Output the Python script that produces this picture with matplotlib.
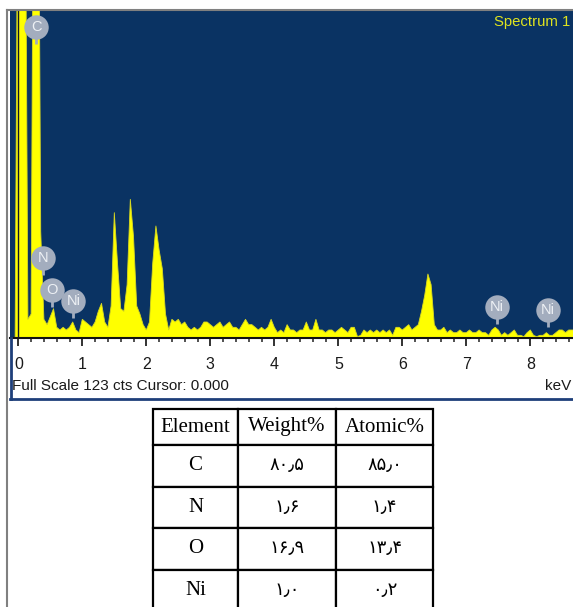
import numpy as np
import matplotlib
matplotlib.use('Agg')
import matplotlib.pyplot as plt
from matplotlib.lines import Line2D
from matplotlib.ticker import MultipleLocator

plt.rcParams['font.family'] = ['Liberation Sans', 'DejaVu Sans']

# ---------------- data ----------------
energy_start = -0.10   # keV
energy_step = 0.05     # keV
counts = [0, 0,
          # 0.00 - 0.95
          220, 220, 220, 7, 9, 260, 260, 40, 7, 5, 8, 11, 4, 3, 4, 3, 4, 6, 3, 2,
          # 1.00 - 1.95
          7, 6, 5, 4, 6, 10, 13, 6, 4, 12, 47, 28, 11, 10, 20, 52, 38, 12, 9, 5,
          # 2.00 - 2.95
          3, 6, 28, 42, 33, 26, 9, 3, 7, 6, 7, 5, 6, 4, 3, 4, 3, 4, 6, 6,
          # 3.00 - 3.95
          5, 4, 5, 6, 4, 5, 6, 4, 4, 3, 5, 7, 5, 5, 4, 3, 4, 3, 4, 7,
          # 4.00 - 4.95
          4, 2, 3, 2, 5, 3, 3, 2, 3, 3, 6, 3, 3, 7, 3, 3, 2, 3, 3, 2,
          # 5.00 - 5.95
          3, 4, 3, 2, 4, 4, 0.5, 1, 3, 2, 3, 2, 3, 2, 3, 2, 3, 1, 4, 4,
          # 6.00 - 6.95
          3, 4, 5, 3, 4, 5, 10, 16, 24, 20, 5, 3, 3, 4, 2, 3, 2, 2, 3, 2,
          # 7.00 - 7.95
          2, 3, 2, 2, 3, 2, 2, 1, 3, 4, 3, 1, 2, 1, 2, 3, 1, 1, 0.5, 2,
          # 8.00 - 8.70
          3, 1, 0.5, 1, 1, 2, 1, 1, 2, 3, 3, 2, 3, 3, 3]
energy = energy_start + energy_step * np.arange(len(counts))

full_scale = 123
x_ticks = [0, 1, 2, 3, 4, 5, 6, 7, 8]

label_elements = ['C', 'N', 'O', 'Ni', 'Ni', 'Ni']
label_energy = [0.28, 0.39, 0.53, 0.86, 7.48, 8.27]
label_height = [116.5, 30.0, 18.0, 14.0, 11.6, 10.5]

table_columns = ['Element', 'Weight%', 'Atomic%']
table_elements = ['C', 'N', 'O', 'Ni']
weight_pct = ['۸۰٫۵', '۱٫۶', '۱۶٫۹', '۱٫۰']
atomic_pct = ['۸۵٫۰', '۱٫۴', '۱۳٫۴', '۰٫۲']

# ---------------- layout helpers ----------------
W, H = 573, 607
fig = plt.figure(figsize=(W / 100, H / 100), dpi=100)
fig.patch.set_facecolor('white')


def fx(px):
    return px / W


def fy(py):
    return 1 - py / H


# ---------------- spectrum panel ----------------
navy = '#0A3363'
ax = fig.add_axes([fx(10), fy(338), fx(573) - fx(10), fy(10) - fy(338)])
ax.set_facecolor(navy)
ax.fill_between(energy, counts, 0, color='#FFFF00', lw=0.6, edgecolor='#D8D820', zorder=2)
ax.axvline(0, color='#101828', lw=1.0, zorder=3)
ax.set_xlim(-0.13, 8.667)
ax.set_ylim(0, full_scale)

for s in ['top', 'right', 'left']:
    ax.spines[s].set_visible(False)
ax.spines['bottom'].set_color('#111111')
ax.spines['bottom'].set_linewidth(1.5)
ax.set_yticks([])
ax.set_xticks(x_ticks)
ax.xaxis.set_minor_locator(MultipleLocator(0.2))
ax.tick_params(axis='x', which='major', length=5.5, width=1.3, color='#222222',
               pad=8, labelsize=11.5, labelcolor='#1a1a1a')
ax.tick_params(axis='x', which='minor', length=3, width=1.1, color='#222222')

badge_col = '#A3ADBE'
stem_len = 17 * full_scale / 328
for el, e, h in zip(label_elements, label_energy, label_height):
    ax.plot([e, e], [h - stem_len, h], color=badge_col, lw=2, zorder=4,
            solid_capstyle='butt')
    ax.scatter([e], [h], s=310, color=badge_col, zorder=5, linewidths=0)
    ax.text(e, h, el, ha='center', va='center', color='#EEF1F5', fontsize=10.5,
            zorder=6)

fig.text(fx(570), fy(22), 'Spectrum 1', ha='right', va='center',
         color='#E0E41E', fontsize=10.7)

# frame lines
border_blue = '#1E3F7A'
fig.add_artist(Line2D([fx(10.5), fx(10.5)], [fy(338), fy(399)], color=border_blue, lw=2))
fig.add_artist(Line2D([fx(10), fx(573)], [fy(399), fy(399)], color=border_blue, lw=2))
fig.add_artist(Line2D([fx(7), fx(7)], [fy(10), fy(607)], color='#808080', lw=1.5))
fig.add_artist(Line2D([fx(7), fx(573)], [fy(10), fy(10)], color='#808080', lw=1.5))

fig.text(fx(12), fy(386.5), f'Full Scale {full_scale} cts Cursor: 0.000',
         ha='left', va='center', fontsize=11, color='#1a1a1a')
fig.text(fx(571), fy(386.5), 'keV', ha='right', va='center', fontsize=11,
         color='#1a1a1a')

# ---------------- table ----------------
tax = fig.add_axes([fx(153), fy(611), fx(433) - fx(153), fy(409) - fy(611)])
tax.axis('off')
rows = [[el, w, a] for el, w, a in zip(table_elements, weight_pct, atomic_pct)]
col_w = np.array([85, 98, 97]) / 280
tbl = tax.table(cellText=rows, colLabels=table_columns, cellLoc='center',
                colWidths=list(col_w), bbox=[0, 0, 1, 1])
tbl.auto_set_font_size(False)
for (r, c), cell in tbl.get_celld().items():
    cell.set_linewidth(1.6)
    cell.set_edgecolor('black')
    cell.set_height(36 if r == 0 else 41.5)
    txt = cell.get_text()
    txt.set_fontfamily(['Liberation Serif', 'DejaVu Sans'])
    if r > 0 and c > 0:
        txt.set_fontsize(13)
    else:
        txt.set_fontsize(15)

fig.savefig('out.png', dpi=100)
